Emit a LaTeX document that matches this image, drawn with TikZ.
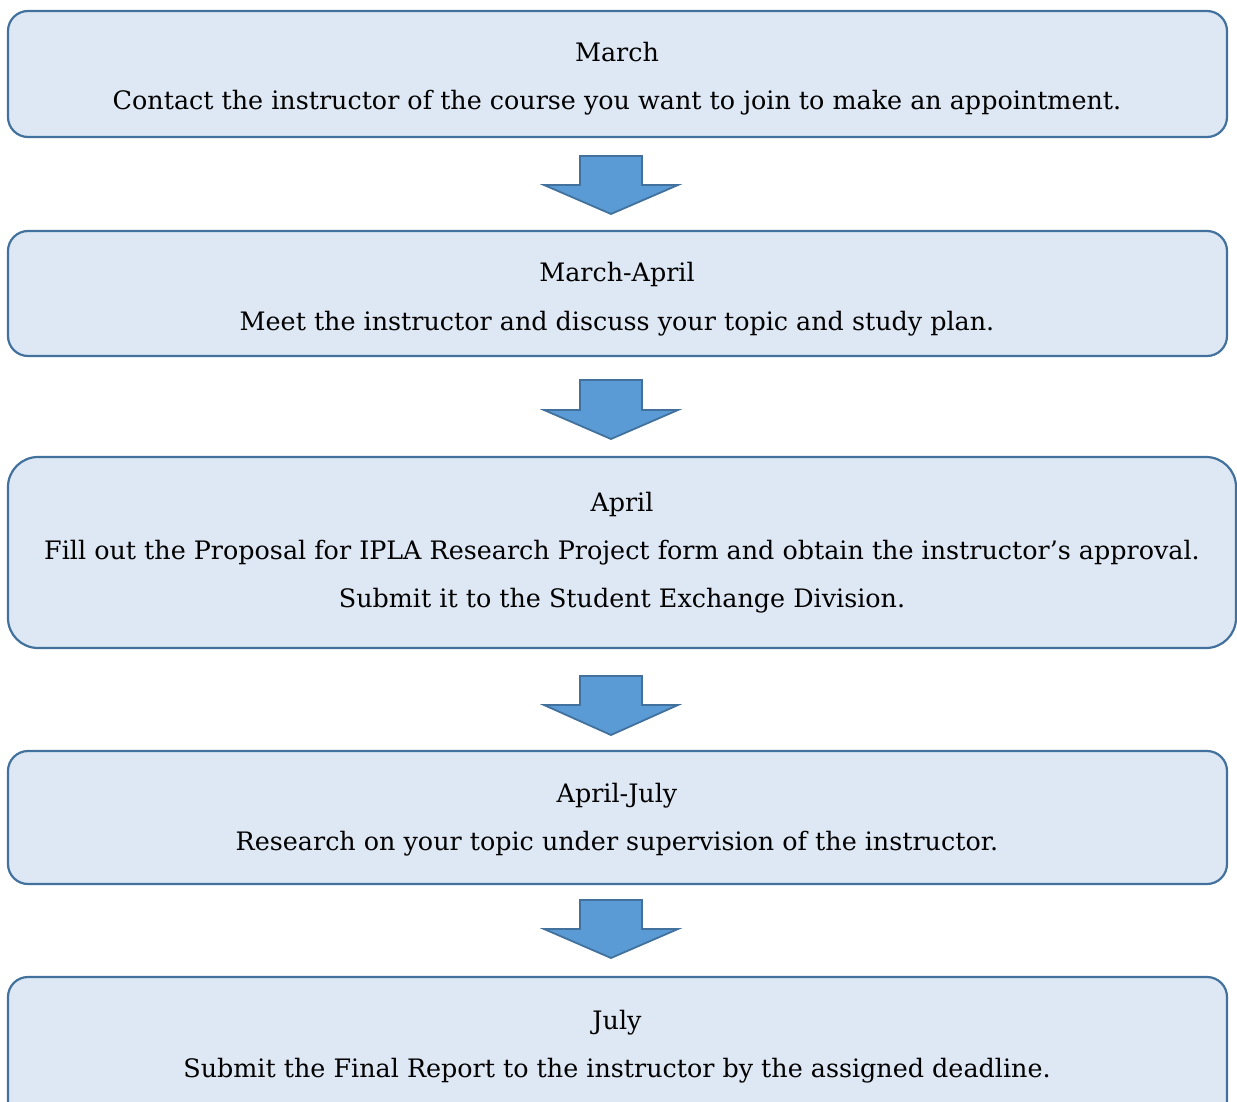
\documentclass[tikz,border=0pt]{standalone}
\usepackage{fontspec}
\setmainfont{DejaVu Serif}
\usetikzlibrary{positioning}
\definecolor{boxfill}{HTML}{DEE8F4}
\definecolor{boxline}{HTML}{41719C}
\definecolor{arrfill}{HTML}{5B9BD5}
\tikzset{
  stagebox/.style={draw=boxline, fill=boxfill, line width=2.2pt, rounded corners=#1},
  stagebox/.default=20pt,
  downarrow/.style={draw=boxline, fill=arrfill, line width=1.8pt, line join=miter},
  txt/.style={font=\fontsize{25.4}{30}\selectfont, inner sep=0pt, anchor=base}
}
\begin{document}
\begin{tikzpicture}[x=1pt,y=-1pt]
\useasboundingbox (0,0) rectangle (1237,1102);
\clip (0,0) rectangle (1237,1102);
% boxes
\draw[stagebox] (8,11) rectangle (1227,137);
\draw[stagebox] (8,231) rectangle (1227,356);
\draw[stagebox=30pt] (8,457) rectangle (1236,648);
\draw[stagebox] (8,751) rectangle (1227,884);
\draw[stagebox] (8,977) rectangle (1227,1140);
% arrows
\foreach \t/\w/\b in {156/185/214, 380/410/439, 676/705/735, 900/929/958}{
  \draw[downarrow] (580,\t) -- (642,\t) -- (642,\w) -- (678,\w) -- (611,\b) -- (544,\w) -- (580,\w) -- cycle;
}
% texts
\node[txt] (t1a) at (617,62) {March};
\node[txt] (t1b) at (617,110) {Contact the instructor of the course you want to join to make an appointment.};
\node[txt] (t2a) at (617,281) {March-April};
\node[txt] (t2b) at (617,330) {Meet the instructor and discuss your topic and study plan.};
\node[txt] (t3a) at (622,511) {April};
\node[txt] (t3b) at (622,559) {Fill out the Proposal for IPLA Research Project form and obtain the instructor’s approval.};
\node[txt] (t3c) at (622,607) {Submit it to the Student Exchange Division.};
\node[txt] (t4a) at (617,802) {April-July};
\node[txt] (t4b) at (617,850) {Research on your topic under supervision of the instructor.};
\node[txt] (t5a) at (617,1029) {July};
\node[txt] (t5b) at (617,1077) {Submit the Final Report to the instructor by the assigned deadline.};
\end{tikzpicture}
\end{document}
